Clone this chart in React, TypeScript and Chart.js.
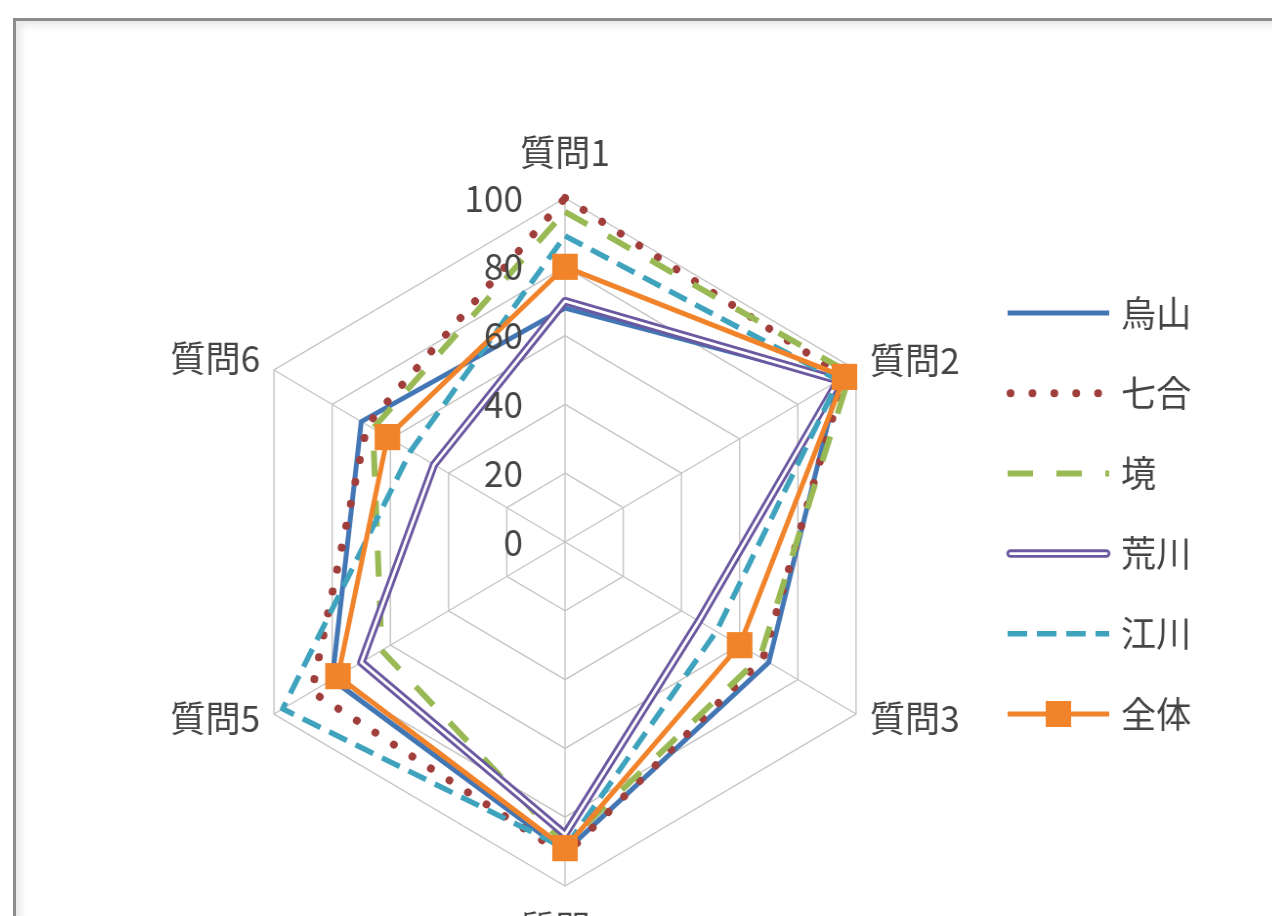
import React, { useEffect, useRef } from "react";
import { Chart, registerables } from "chart.js";

Chart.register(...registerables);

const categories = ["質問1", "質問2", "質問3", "質問4", "質問5", "質問6"];
const seriesNames = ["烏山", "七合", "境", "荒川", "江川", "全体"];
const karasuyama = [68, 94, 70, 90, 80, 70];
const shichigo = [100, 96, 68, 91, 87, 68];
const sakai = [96, 98, 67, 88, 63, 66];
const arakawa = [70, 94, 46, 85, 70, 45];
const egawa = [89, 94, 52, 89, 97, 53];
const zentai = [80, 96, 60, 89, 78, 61];
const tickMin = 0;
const tickMax = 100;
const tickStep = 20;

const FONT = '"Noto Sans CJK JP", "Noto Sans", sans-serif';
const TEXT = "#454545";
const FSIZE = 36;

const decor = {
  id: "decor",
  afterDatasetDraw(chart: any, args: any) {
    // double line for 荒川
    if (args.index !== 3) return;
    const pts = args.meta.data;
    const ctx = chart.ctx;
    ctx.save();
    ctx.beginPath();
    pts.forEach((p: any, i: number) => (i ? ctx.lineTo(p.x, p.y) : ctx.moveTo(p.x, p.y)));
    ctx.closePath();
    ctx.strokeStyle = "#ffffff";
    ctx.lineWidth = 2.8;
    ctx.lineJoin = "round";
    ctx.stroke();
    ctx.restore();
  },
  afterDatasetsDraw(chart: any) {
    const scale = chart.scales.r;
    const ctx = chart.ctx;
    ctx.save();
    ctx.fillStyle = TEXT;
    ctx.font = `${FSIZE}px ${FONT}`;
    ctx.textBaseline = "middle";
    // tick labels
    ctx.textAlign = "right";
    scale.ticks.forEach((t: any) => {
      const d = scale.getDistanceFromCenterForValue(t.value);
      ctx.fillText(String(t.value), scale.xCenter - 43, scale.yCenter - d);
    });
    // point labels
    const offs = [
      { a: "center", dx: 0, dy: -46 },
      { a: "left", dx: 14, dy: -10 },
      { a: "left", dx: 14, dy: 4 },
      { a: "center", dx: 0, dy: 42 },
      { a: "right", dx: -14, dy: 4 },
      { a: "right", dx: -14, dy: -12 },
    ];
    chart.data.labels.forEach((lab: string, i: number) => {
      const p = scale.getPointPosition(i, scale.drawingArea);
      const o = offs[i];
      ctx.textAlign = o.a;
      ctx.fillText(lab, p.x + o.dx, p.y + o.dy);
    });
    ctx.restore();
  },
  afterDraw(chart: any) {
    const scale = chart.scales.r;
    const ctx = chart.ctx;
    const x0 = scale.xCenter + 453;
    const x1 = x0 + 104;
    chart.data.datasets.forEach((ds: any, i: number) => {
      const y = scale.yCenter - 229 + i * 80.2;
      ctx.save();
      ctx.strokeStyle = ds.borderColor;
      ctx.lineWidth = ds.borderWidth;
      ctx.setLineDash(ds.borderDash || []);
      ctx.lineCap = ds.borderCapStyle || "butt";
      ctx.beginPath();
      if (i === 1) {
        ctx.moveTo(x0 + 3, y);
        ctx.lineTo(x1 - 6, y);
      } else if (i === 3) {
        ctx.lineCap = "round";
        ctx.moveTo(x0 + 3, y);
        ctx.lineTo(x1 - 3, y);
      } else {
        ctx.moveTo(x0, y);
        ctx.lineTo(x1, y);
      }
      ctx.stroke();
      if (i === 3) {
        ctx.strokeStyle = "#ffffff";
        ctx.lineWidth = 2.8;
        ctx.beginPath();
        ctx.moveTo(x0 + 3, y);
        ctx.lineTo(x1 - 3, y);
        ctx.stroke();
      }
      if (i === 5) {
        const s = 26;
        ctx.fillStyle = ds.pointBackgroundColor;
        ctx.fillRect(x0 + 52 - s / 2, y - s / 2, s, s);
      }
      ctx.setLineDash([]);
      ctx.fillStyle = TEXT;
      ctx.font = `${FSIZE}px ${FONT}`;
      ctx.textAlign = "left";
      ctx.textBaseline = "middle";
      ctx.fillText(ds.label, x0 + 116, y);
      ctx.restore();
    });
  },
};

export default function App() {
  const ref = useRef<HTMLCanvasElement | null>(null);

  useEffect(() => {
    if (!ref.current) return;
    const values = [karasuyama, shichigo, sakai, arakawa, egawa, zentai];
    const styles = [
      { color: "#4376B4", width: 5, dash: [] as number[], cap: "butt" },
      { color: "#A03E3C", width: 8, dash: [0.01, 22.4], cap: "round" },
      { color: "#98B954", width: 6, dash: [26, 24], cap: "butt" },
      { color: "#6A58A0", width: 8.5, dash: [] as number[], cap: "butt" },
      { color: "#3FA3BD", width: 5.5, dash: [20, 10], cap: "butt" },
      { color: "#F1832A", width: 5, dash: [] as number[], cap: "butt" },
    ];
    const chart = new Chart(ref.current, {
      type: "radar",
      data: {
        labels: categories,
        datasets: seriesNames.map((name, i) => ({
          label: name,
          data: values[i],
          borderColor: styles[i].color,
          backgroundColor: "transparent",
          borderWidth: styles[i].width,
          borderDash: styles[i].dash,
          borderCapStyle: styles[i].cap as any,
          borderJoinStyle: "round" as any,
          fill: false,
          pointRadius: i === 5 ? 18.5 : 0,
          pointStyle: "rect" as any,
          pointBackgroundColor: styles[i].color,
          pointBorderWidth: 0,
          pointHoverRadius: i === 5 ? 18.5 : 0,
          order: 5 - i,
        })),
      },
      options: {
        responsive: false,
        animation: false,
        events: [],
        layout: { padding: { left: 221, right: 363, top: 198, bottom: 30 } },
        plugins: { legend: { display: false }, tooltip: { enabled: false } },
        scales: {
          r: {
            min: tickMin,
            max: tickMax,
            ticks: { stepSize: tickStep, display: false },
            pointLabels: { display: false },
            grid: { color: "#c4c4c4", lineWidth: 1.4 },
            angleLines: { color: "#c4c4c4", lineWidth: 1.4 },
          },
        },
      },
      plugins: [decor],
    });
    return () => chart.destroy();
  }, []);

  return (
    <div
      style={{
        position: "fixed",
        left: 0,
        top: 0,
        width: 1272,
        height: 916,
        overflow: "hidden",
        background: "#ffffff",
      }}
    >
      <div
        style={{
          position: "absolute",
          left: 13,
          top: 18,
          width: 1400,
          height: 1100,
          borderTop: "3px solid #8c8c8c",
          borderLeft: "3px solid #8c8c8c",
          boxShadow: "inset 4px 4px 9px rgba(0,0,0,0.10)",
        }}
      />
      <div
        style={{
          position: "absolute",
          left: 0,
          top: 0,
          width: 1272,
          height: 916,
          transform: "scaleX(0.977)",
          transformOrigin: "565px 0px",
        }}
      >
        <canvas ref={ref} width={1272} height={916} style={{ display: "block", width: 1272, height: 916 }} />
      </div>
    </div>
  );
}
